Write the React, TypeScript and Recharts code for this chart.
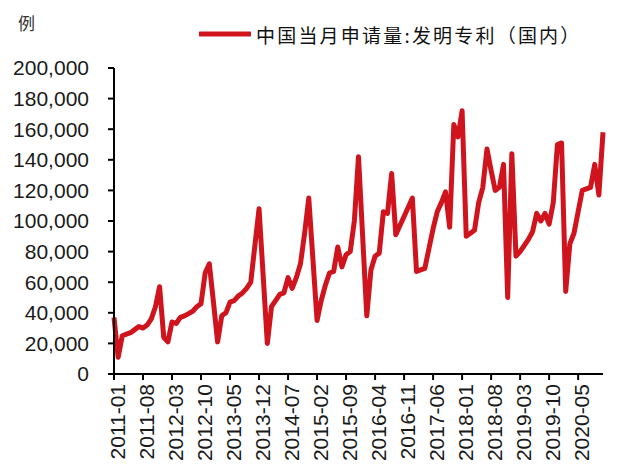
import React from 'react';
import { LineChart, Line, XAxis, YAxis } from 'recharts';

const startYear = 2011;
const v2011 = [37000, 11000, 25000, 26000, 27000, 29000, 31000, 30000, 32000, 36000, 44000, 57000];
const v2012 = [24000, 21000, 34000, 33000, 37000, 38000, 39500, 41000, 44000, 46000, 66000, 72000];
const v2013 = [47000, 21000, 38000, 40000, 47000, 48000, 51000, 53000, 56000, 60000, 84000, 108000];
const v2014 = [64000, 20000, 44000, 48000, 52000, 53000, 63000, 56000, 63000, 72000, 92000, 115000];
const v2015 = [75000, 35000, 48000, 58000, 66000, 67000, 83000, 70000, 78000, 80000, 100000, 142000];
const v2016 = [90000, 38000, 68000, 77000, 79000, 106000, 105000, 131000, 91000, 97000, 103000, 109000];
const v2017 = [115000, 67000, 68000, 69000, 82000, 95000, 106000, 112000, 119000, 96000, 163000, 155000];
const v2018 = [172000, 90000, 92000, 94000, 112000, 122000, 147000, 133000, 120000, 122000, 137000, 50000];
const v2019 = [144000, 77000, 80000, 84000, 88000, 93000, 105000, 100000, 105000, 98000, 112000, 150000];
const v2020 = [151000, 54000, 85000, 92000, 106000, 120000, 121000, 122000, 137000, 117000, 158000];

const values = [...v2011, ...v2012, ...v2013, ...v2014, ...v2015, ...v2016, ...v2017, ...v2018, ...v2019, ...v2020];
const months = values.map((_, i) => `${startYear + Math.floor(i / 12)}-${String((i % 12) + 1).padStart(2, '0')}`);
const yTicks = [0, 20000, 40000, 60000, 80000, 100000, 120000, 140000, 160000, 180000, 200000];
const seriesName = '中国当月申请量:发明专利（国内）';
const unitLabel = '例';

const data = months.map((m, i) => ({ month: m, value: values[i] }));

const LINE_COLOR = '#CF141E';
const FONT = '"Liberation Sans", Arial, sans-serif';

const XTick = (props: any) => {
  const { x, y, payload } = props;
  const cx = x + 3;
  return (
    <text
      x={cx}
      y={y}
      dy="0.36em"
      textAnchor="end"
      fontSize={21}
      fontFamily={FONT}
      fill="#1a1a1a"
      transform={`rotate(-90, ${cx}, ${y})`}
    >
      {payload.value}
    </text>
  );
};

export default function App() {
  return (
    <div style={{ position: 'absolute', left: 0, top: 0, width: 640, height: 472, background: '#fff' }}>
      <div style={{ position: 'absolute', left: 18, top: 10, fontSize: 17, fontFamily: '"Noto Sans CJK SC", sans-serif', color: '#333' }}>
        {unitLabel}
      </div>
      <div style={{ position: 'absolute', left: 199, top: 20, height: 28, display: 'flex', alignItems: 'center' }}>
        <svg width={52} height={10} style={{ display: 'block' }}>
          <line x1={1} y1={5} x2={51} y2={5} stroke={LINE_COLOR} strokeWidth={5} strokeLinecap="round" />
        </svg>
        <span style={{ marginLeft: 5, fontSize: 19, letterSpacing: 2.2, fontFamily: '"Noto Sans CJK SC", sans-serif', color: '#111', whiteSpace: 'nowrap' }}>
          {seriesName}
        </span>
      </div>
      <div style={{ position: 'absolute', left: 0, top: 0 }}>
        <LineChart width={640} height={472} data={data} margin={{ top: 68, right: 37, left: 14, bottom: 8 }}>
          <XAxis
            dataKey="month"
            interval={6}
            tick={<XTick />}
            tickSize={6}
            tickMargin={4}
            height={90}
            axisLine={{ stroke: '#000', strokeWidth: 2 }}
            tickLine={{ stroke: '#000', strokeWidth: 2 }}
          />
          <YAxis
            width={100}
            domain={[0, 200000]}
            ticks={yTicks}
            interval={0}
            tickFormatter={(v: number) => v.toLocaleString('en-US')}
            tickSize={6}
            tickMargin={19}
            tick={{ fontSize: 21, fontFamily: FONT, fill: '#1a1a1a' }}
            axisLine={{ stroke: '#000', strokeWidth: 2 }}
            tickLine={{ stroke: '#000', strokeWidth: 2 }}
          />
          <Line
            type="linear"
            dataKey="value"
            name={seriesName}
            stroke={LINE_COLOR}
            strokeWidth={5}
            strokeLinejoin="round"
            dot={false}
            activeDot={false}
            isAnimationActive={false}
          />
        </LineChart>
      </div>
    </div>
  );
}
